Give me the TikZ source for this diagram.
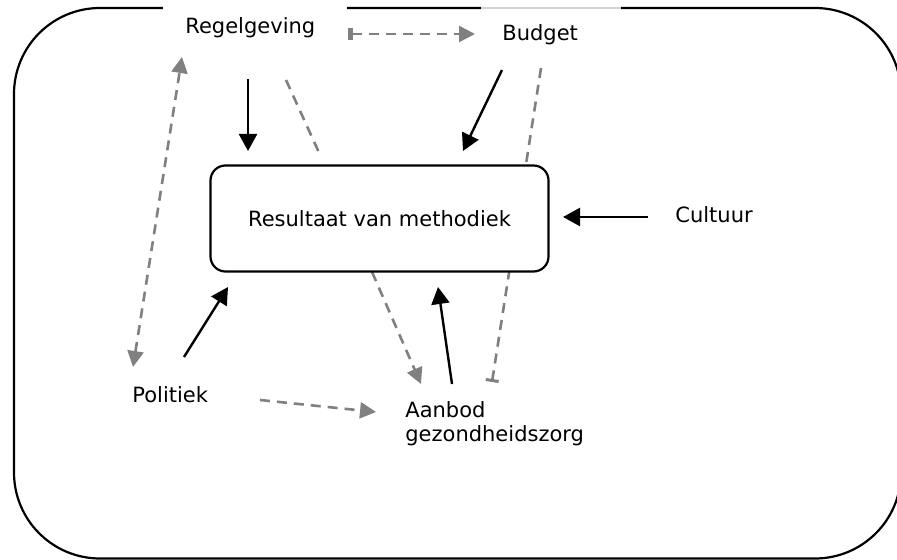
\documentclass[tikz,border=0pt]{standalone}
\usepackage{fontspec}
\setmainfont{DejaVu Sans}
\usetikzlibrary{arrows.meta}
\begin{document}
\begin{tikzpicture}[x=0.5pt,y=-0.5pt,
  lbl/.style={anchor=base west,inner sep=0pt,font=\fontsize{10.5pt}{12pt}\selectfont},
  solidarr/.style={line width=1.2pt,-{Triangle[length=8.5pt,width=9pt]}},
  dasharr/.style={line width=1.3pt,draw=gray,dash pattern=on 5pt off 3.5pt},
  gtri/.tip={Triangle[length=8pt,width=8pt,color=gray]}]
\useasboundingbox (0,0) rectangle (897,560);

% surrounding frame
\draw[line width=1.1pt,rounded corners=43pt] (14,8) rectangle (901,558.5);

% white covers where the labels sit on the frame
\fill[white] (163,2) rectangle (347,60);
\fill[white] (481,2) rectangle (621,60);
\draw[gray!35,line width=0.8pt] (481,8) -- (621,8);

% labels
\node[lbl] (reg) at (185,34) {Regelgeving};
\node[lbl] (bud) at (502,41) {Budget};
\node[lbl] (cul) at (675,223) {Cultuur};
\node[lbl] (pol) at (132,402) {Politiek};
\node[lbl] (aan) at (405,417) {Aanbod};
\node[lbl] (gez) at (405,441) {gezondheidszorg};

% connector end points
\coordinate (regA) at (248,79);   \coordinate (resA) at (248,151);
\coordinate (regB) at (286,80);   \coordinate (resB) at (321,157);
\coordinate (budA) at (502,70);   \coordinate (resC) at (463,151);
\coordinate (budB) at (541,68);   \coordinate (aanA) at (492,382);
\coordinate (regC) at (348,34);   \coordinate (budC) at (475,34);
\coordinate (polA) at (133,367);  \coordinate (regD) at (182,57);
\coordinate (polB) at (184,357);  \coordinate (resD) at (228,287);
\coordinate (polC) at (260,400);  \coordinate (aanB) at (376,412);
\coordinate (resE) at (372,272);  \coordinate (aanC) at (421,384);
\coordinate (aanD) at (452,384);  \coordinate (resF) at (438,287);
\coordinate (culA) at (648,217);  \coordinate (resG) at (563,217);

% dashed relations
\draw[dasharr] (regB) -- (resB);
\draw[dasharr,-{Bar[width=6.5pt,line width=1.5pt,color=gray]}] (budB) -- (aanA);
\draw[dasharr,{Bar[width=6pt,line width=2.5pt,color=gray]}-gtri] (regC) -- (budC);
\draw[dasharr,gtri-gtri] (polA) -- (regD);
\draw[dasharr,-gtri] (polC) -- (aanB);
\draw[dasharr,-gtri] (resE) -- (aanC);

% central box, drawn over the dashed line that passes behind it
\node[draw,fill=white,line width=1.1pt,rounded corners=7.5pt,minimum width=169pt,minimum height=53pt,
      font=\fontsize{10.5pt}{12pt}\selectfont] (res) at (379.5,218.5) {Resultaat van methodiek};

% solid influences on the result
\draw[solidarr] (regA) -- (resA);
\draw[solidarr] (budA) -- (resC);
\draw[solidarr] (polB) -- (resD);
\draw[solidarr] (aanD) -- (resF);
\draw[solidarr] (culA) -- (resG);
\end{tikzpicture}
\end{document}
